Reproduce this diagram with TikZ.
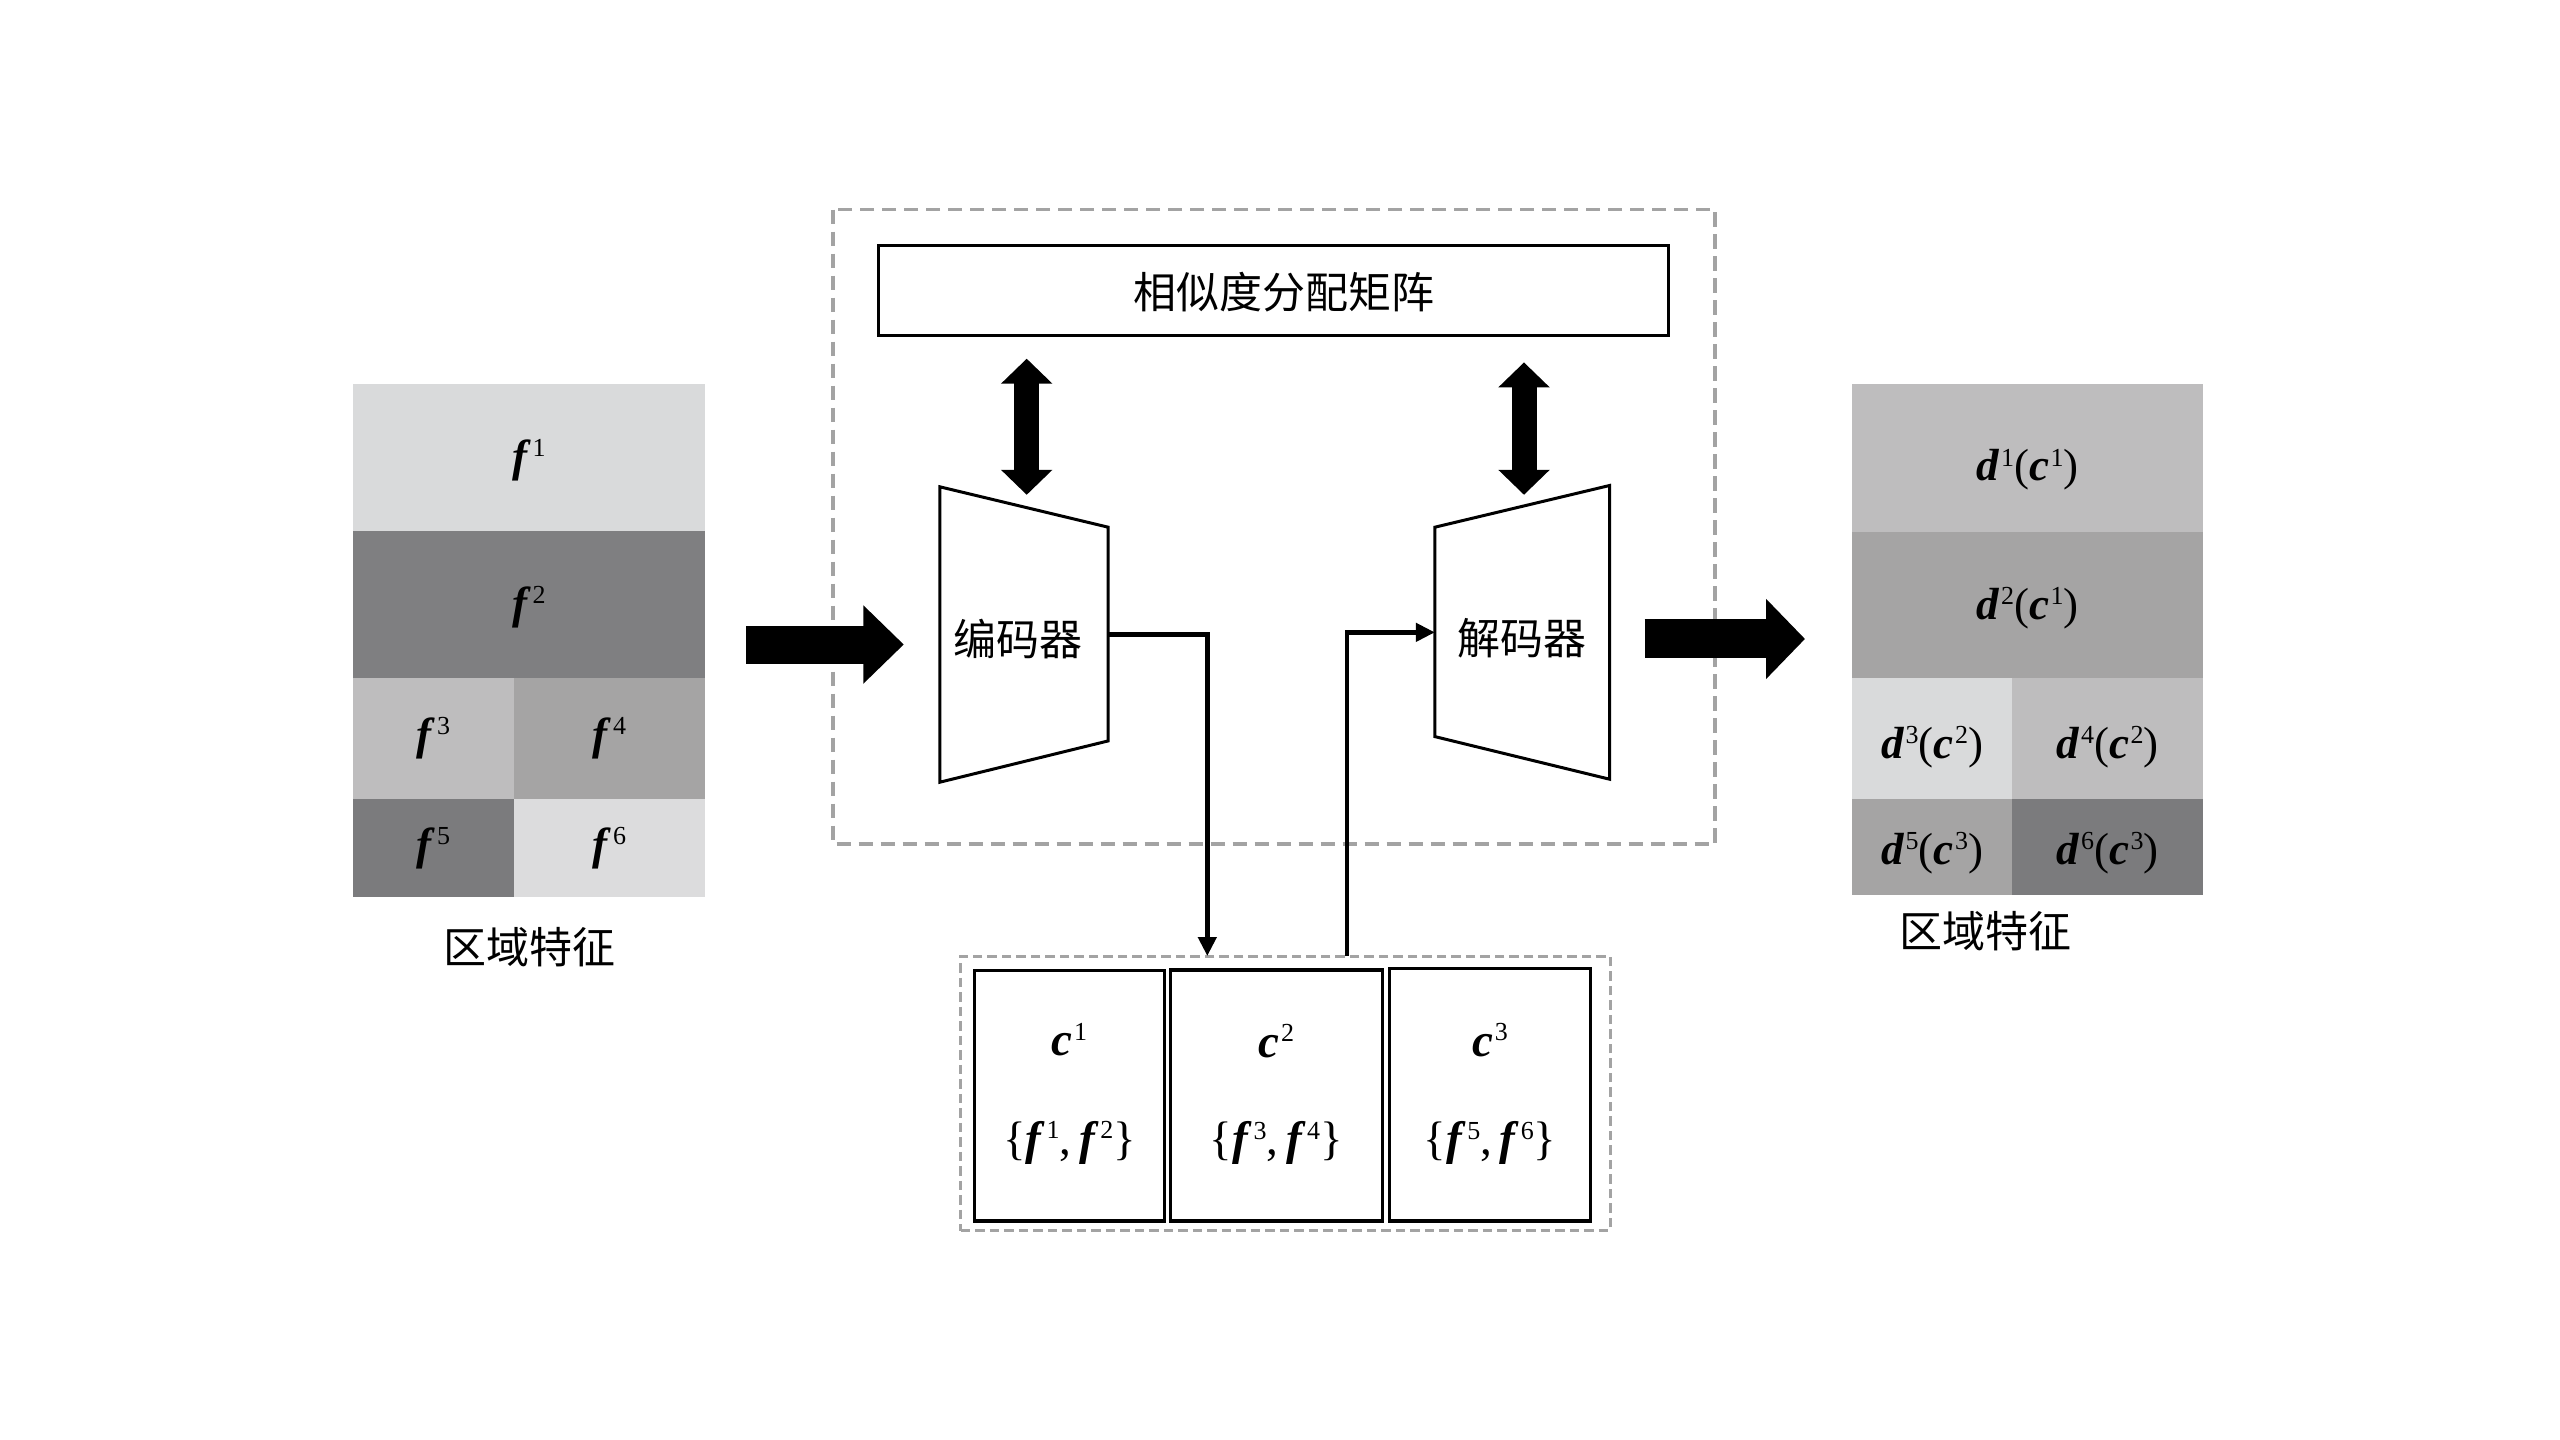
\documentclass[tikz,border=0pt]{standalone}
\usepackage{fontspec}
\setmainfont{Liberation Serif}
\newfontfamily\cjk{Noto Sans CJK SC}
\usetikzlibrary{arrows.meta,calc}
\definecolor{gA}{HTML}{D9DADB}
\definecolor{gB}{HTML}{7F7F81}
\definecolor{gC}{HTML}{BEBDBE}
\definecolor{gD}{HTML}{A5A4A4}
\definecolor{gE}{HTML}{7B7B7D}
\definecolor{gF}{HTML}{DCDCDD}
\definecolor{dgray}{HTML}{A3A3A3}
\newcommand\bfit[1]{\textbf{\textit{#1}}}
\newcommand\supx[1]{\kern1.5pt\raisebox{0.72ex}{\fontsize{26}{26}\selectfont #1}}
\newcommand\lowr[2]{\raisebox{-#1}[\height][\depth]{#2}}
\tikzset{
  cell/.style={draw=none, inner sep=0pt, outer sep=0pt, anchor=north west, font=\fontsize{45}{45}\selectfont},
  cjktext/.style={font=\cjk\fontsize{43}{43}\selectfont, inner sep=0pt},
  gdash/.style={draw=dgray, line width=3.5pt, dash pattern=on 14.5pt off 7.5pt},
  gdashs/.style={draw=dgray, line width=3pt, dash pattern=on 9.5pt off 5pt},
  blockline/.style={draw=black, line width=3pt},
  clbox/.style={draw=black, line width=3.2pt, inner sep=0pt, outer sep=0pt, anchor=north west},
  cltext/.style={font=\fontsize{47}{47}\selectfont, inner sep=0pt},
  conn/.style={draw=black, line width=4.5pt, -{Triangle[width=18pt,length=19pt]}},
  bigarrL/.style={draw=black, line width=38pt, -{Triangle[width=76pt,length=40.5pt]}},
  bigarrR/.style={draw=black, line width=39pt, -{Triangle[width=78pt,length=39pt]}},
  dblarr/.style={draw=black, line width=25pt, {Triangle[width=50pt,length=25pt]}-{Triangle[width=50pt,length=25pt]}}
}
\begin{document}
\begin{tikzpicture}[x=1pt,y=-1pt]
\useasboundingbox[fill=white] (0,0) rectangle (2560,1440);

% left region features
\node[cell, fill=gA, minimum width=352pt, minimum height=147pt] (f1) at (353,384) {\lowr{3pt}{\bfit{f}\supx{1}}};
\node[cell, fill=gB, minimum width=352pt, minimum height=147pt] (f2) at (353,531) {\lowr{3pt}{\bfit{f}\supx{2}}};
\node[cell, fill=gC, minimum width=161pt, minimum height=121pt] (f3) at (353,678) {\bfit{f}\supx{3}};
\node[cell, fill=gD, minimum width=191pt, minimum height=121pt] (f4) at (514,678) {\bfit{f}\supx{4}};
\node[cell, fill=gE, minimum width=161pt, minimum height=98pt] (f5) at (353,799) {\bfit{f}\supx{5}};
\node[cell, fill=gF, minimum width=191pt, minimum height=98pt] (f6) at (514,799) {\bfit{f}\supx{6}};
\node[cjktext] (labL) at (529,947) {区域特征};

% right region features
\node[cell, fill=gC, minimum width=351pt, minimum height=147.5pt] (d1) at (1852,384) {\lowr{12pt}{\bfit{d}\supx{1}(\bfit{c}\supx{1})}};
\node[cell, fill=gD, minimum width=351pt, minimum height=146.5pt] (d2) at (1852,531.5) {\lowr{3pt}{\bfit{d}\supx{2}(\bfit{c}\supx{1})}};
\node[cell, fill=gA, minimum width=160pt, minimum height=121pt] (d3) at (1852,678) {\lowr{9pt}{\bfit{d}\supx{3}(\bfit{c}\supx{2})}};
\node[cell, fill=gC, minimum width=191pt, minimum height=121pt] (d4) at (2012,678) {\lowr{9pt}{\bfit{d}\supx{4}(\bfit{c}\supx{2})}};
\node[cell, fill=gD, minimum width=160pt, minimum height=96pt] (d5) at (1852,799) {\lowr{6pt}{\bfit{d}\supx{5}(\bfit{c}\supx{3})}};
\node[cell, fill=gE, minimum width=191pt, minimum height=96pt] (d6) at (2012,799) {\lowr{6pt}{\bfit{d}\supx{6}(\bfit{c}\supx{3})}};
\node[cjktext] (labR) at (1985,931) {区域特征};

% main dashed frame
\draw[gdash] (833,209.5) rectangle (1715,844);

% similarity matrix
\node[blockline, minimum width=790pt, minimum height=90pt, inner sep=0pt] (sim) at (1273.9,290.6) {};
\node[cjktext] (simtxt) at (1283.5,292) {相似度分配矩阵};

% encoder
\node[cjktext, minimum width=168pt, minimum height=295pt] (enc) at (1024,634.5) {\kern-12pt\lowr{5pt}{编码器}};
\draw[blockline] (enc.north west) -- ($(enc.north east)+(0,40.4)$) -- ($(enc.south east)+(0,-41.3)$) -- (enc.south west) -- cycle;

% decoder
\node[cjktext, minimum width=174.3pt, minimum height=293.3pt] (dec) at (1522.2,632.35) {\lowr{6pt}{解码器}};
\draw[blockline] ($(dec.north west)+(0,41.7)$) -- (dec.north east) -- (dec.south east) -- ($(dec.south west)+(0,-42.6)$) -- cycle;

% double arrows
\draw[dblarr] ($(sim.south -| enc.north)+(2.7,21.6)$) -- ($(enc.north)+(2.7,8)$);
\draw[dblarr] ($(sim.south -| dec.north)+(1.8,25.3)$) -- ($(dec.north)+(1.8,9.3)$);

% big arrows
\draw[bigarrL] ($(f2.east |- enc.west)+(41,10)$) -- ($(enc.west)+(-36,10)$);
\draw[bigarrR] ($(dec.east)+(35,6.6)$) -- ($(d2.west |- dec.east)+(-47,6.6)$);

% cluster frame
\node[gdashs, minimum width=649.2pt, minimum height=274.7pt, inner sep=0pt, outer sep=0pt] (clus) at (1285.4,1093.35) {};
\node[clbox, minimum width=189.5pt, minimum height=250.3pt] (c1) at (974.7,970.7) {};
\node[clbox, minimum width=212.1pt, minimum height=251pt] (c2) at (1170.3,970) {};
\node[clbox, minimum width=200.8pt, minimum height=252.7pt] (c3) at (1389.7,968.3) {};
\node[cltext] (c1a) at ($(c1.north)+(0,69)$) {\bfit{c}\supx{1}};
\node[cltext] (c1b) at ($(c1.north)+(0,172)$) {\{\bfit{f}\supx{1},\,\bfit{f}\supx{2}\}};
\node[cltext] (c2a) at ($(c2.north)+(0,71)$) {\bfit{c}\supx{2}};
\node[cltext] (c2b) at ($(c2.north)+(0,173)$) {\{\bfit{f}\supx{3},\,\bfit{f}\supx{4}\}};
\node[cltext] (c3a) at ($(c3.north)+(0,72)$) {\bfit{c}\supx{3}};
\node[cltext] (c3b) at ($(c3.north)+(0,175)$) {\{\bfit{f}\supx{5},\,\bfit{f}\supx{6}\}};

% connectors
\draw[conn] (enc.east) -| ([xshift=-78.1pt]clus.north);
\draw[conn] ([xshift=61.5pt]clus.north) |- (dec.west);
\end{tikzpicture}
\end{document}
